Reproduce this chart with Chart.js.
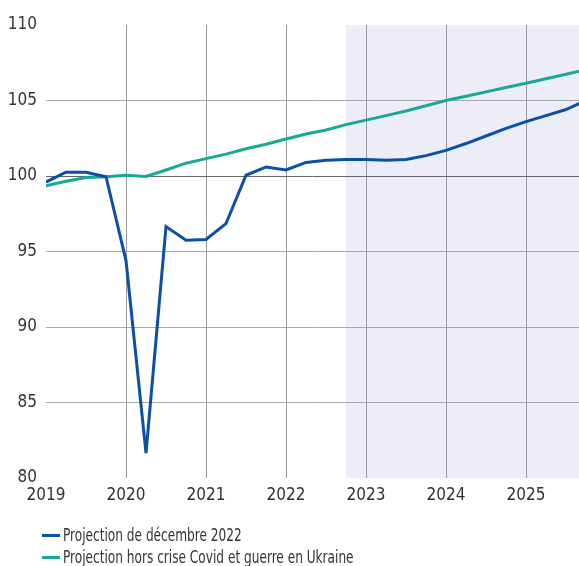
<!DOCTYPE html>
<html>
<head>
<meta charset="utf-8">
<script src="https://cdn.jsdelivr.net/npm/chart.js@4/dist/chart.umd.min.js"></script>
<style>
  html, body { margin: 0; padding: 0; background: #fff; }
  #wrap { position: relative; width: 579px; height: 566px; }
  #legende { position: absolute; left: 42px; top: 524px; font-family: 'DejaVu Sans Condensed', 'Liberation Sans', sans-serif; font-size: 18px; color: #333; }
  .item { height: 22px; line-height: 22px; white-space: nowrap; }
  .trait { display: inline-block; width: 18px; height: 3px; vertical-align: middle; margin-right: 3px; position: relative; top: -1px; }
  .texte { display: inline-block; transform: scaleX(0.75); transform-origin: left center; }
</style>
</head>
<body>
<div id="wrap">
  <canvas id="myChart" width="579" height="566"></canvas>
  <div id="legende"></div>
</div>
<script>
// trimestres (en fraction d'année)
var trimestres = [
  2019.00, 2019.25, 2019.50, 2019.75,
  2020.00, 2020.25, 2020.50, 2020.75,
  2021.00, 2021.25, 2021.50, 2021.75,
  2022.00, 2022.25, 2022.50, 2022.75,
  2023.00, 2023.25, 2023.50, 2023.75,
  2024.00, 2024.25, 2024.50, 2024.75,
  2025.00, 2025.25, 2025.50, 2025.75
];
// Projection de décembre 2022
var projDecembre = [
  99.6, 100.25, 100.25, 99.95,
  94.4, 81.65, 96.65, 95.75,
  95.8, 96.85, 100.05, 100.6,
  100.4, 100.9, 101.05, 101.1,
  101.1, 101.05, 101.1, 101.35,
  101.7, 102.15, 102.65, 103.15,
  103.6, 104.0, 104.4, 105.0
];
// Projection hors crise Covid et guerre en Ukraine
var projHorsCrise = [
  99.35, 99.65, 99.9, 99.95,
  100.05, 99.97, 100.4, 100.85,
  101.15, 101.45, 101.8, 102.1,
  102.45, 102.78, 103.05, 103.4,
  103.7, 104.0, 104.3, 104.65,
  105.0, 105.28, 105.57, 105.86,
  106.14, 106.44, 106.74, 107.04
];
var series = ['Projection de décembre 2022', 'Projection hors crise Covid et guerre en Ukraine'];
var couleurs = ['#0a50a6', '#17a898'];
var debutProjection = 2022.75;
var anneeMin = 2019;
var anneeMax = 2025.6625;
var yMin = 80, yMax = 110;

function points(valeurs) {
  var res = [];
  for (var i = 0; i < trimestres.length; i++) {
    res.push({x: trimestres[i], y: valeurs[i]});
  }
  return res;
}

// zone grisée de la projection
var zoneProjection = {
  id: 'zoneProjection',
  beforeDraw: function(chart) {
    var ctx = chart.ctx;
    var area = chart.chartArea;
    var x0 = chart.scales.x.getPixelForValue(debutProjection);
    ctx.save();
    ctx.fillStyle = '#ecedf7';
    ctx.fillRect(x0, area.top, area.right - x0, area.bottom - area.top);
    ctx.restore();
  }
};

var police = "'DejaVu Sans Condensed', 'Liberation Sans', sans-serif";

var myChart = new Chart(document.getElementById('myChart').getContext('2d'), {
  type: 'line',
  data: {
    datasets: [{
      label: series[0],
      data: points(projDecembre),
      borderColor: couleurs[0],
      backgroundColor: couleurs[0],
      borderWidth: 3,
      pointRadius: 0,
      tension: 0
    }, {
      label: series[1],
      data: points(projHorsCrise),
      borderColor: couleurs[1],
      backgroundColor: couleurs[1],
      borderWidth: 3,
      pointRadius: 0,
      tension: 0
    }]
  },
  options: {
    responsive: false,
    animation: false,
    layout: { padding: { top: 25, right: 0, bottom: 58, left: 0 } },
    plugins: {
      legend: { display: false },
      tooltip: { enabled: false }
    },
    scales: {
      x: {
        type: 'linear',
        min: anneeMin,
        max: anneeMax,
        afterFit: function(s) { s.height = 30; },
        border: { display: false },
        grid: {
          drawTicks: false,
          color: function(c) { return c.tick && c.tick.value === anneeMin ? 'rgba(0,0,0,0)' : '#9a9a9a'; }
        },
        ticks: {
          stepSize: 1,
          includeBounds: false,
          padding: 7,
          maxRotation: 0,
          color: '#333',
          font: { family: police, size: 17 },
          callback: function(v) { return String(v); }
        }
      },
      y: {
        min: yMin,
        max: yMax,
        afterFit: function(s) { s.width = 46; },
        border: { display: false },
        grid: {
          drawTicks: false,
          color: function(c) {
            if (!c.tick) return '#9a9a9a';
            if (c.tick.value === yMin || c.tick.value === yMax) return 'rgba(0,0,0,0)';
            if (c.tick.value === 100) return '#666';
            return '#a8a8a8';
          }
        },
        ticks: {
          stepSize: 5,
          padding: 9,
          color: '#333',
          font: { family: police, size: 17 }
        }
      }
    }
  },
  plugins: [zoneProjection]
});

// légende
var legende = document.getElementById('legende');
for (var i = 0; i < series.length; i++) {
  var item = document.createElement('div');
  item.className = 'item';
  var trait = document.createElement('span');
  trait.className = 'trait';
  trait.style.background = couleurs[i];
  var texte = document.createElement('span');
  texte.className = 'texte';
  texte.textContent = series[i];
  item.appendChild(trait);
  item.appendChild(texte);
  legende.appendChild(item);
}
</script>
</body>
</html>
